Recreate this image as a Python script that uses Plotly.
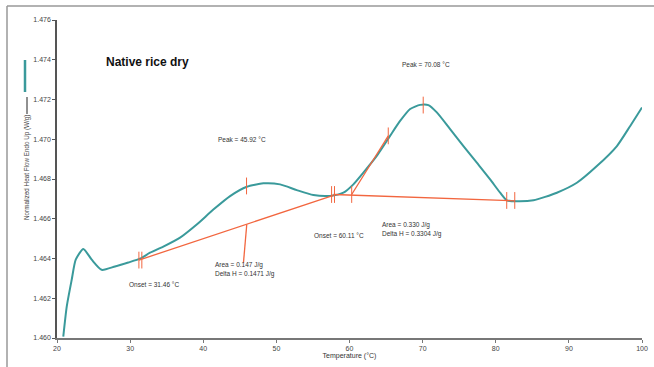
import plotly.graph_objects as go

# ---- data ----
temp = [20.86, 21.33, 22.01, 22.56, 23.60, 24.75, 26.11, 27.93, 29.75, 31.35, 32.72,
        34.54, 36.83, 39.11, 41.38, 43.67, 45.95, 48.22, 50.51, 52.79, 55.06, 57.35,
        59.17, 60.53, 61.90, 63.73, 65.55, 66.92, 68.29, 69.66, 70.79, 71.94, 73.76,
        75.58, 77.41, 79.23, 80.60, 81.52, 82.89, 85.16, 88.36, 91.09, 93.83, 96.57,
        98.39, 100.0]
heat_flow = [1.46007, 1.46158, 1.46293, 1.46394, 1.46448, 1.46394, 1.46343, 1.46360,
             1.46380, 1.46399, 1.46429, 1.46460, 1.46505, 1.46571, 1.46646, 1.46714,
             1.46761, 1.46778, 1.46773, 1.46744, 1.46719, 1.46715, 1.46731, 1.46773,
             1.46832, 1.46916, 1.47017, 1.47092, 1.47152, 1.47173, 1.47172, 1.47135,
             1.47051, 1.46966, 1.46882, 1.46798, 1.46731, 1.46693, 1.46688, 1.46693,
             1.46731, 1.46781, 1.46865, 1.46966, 1.47067, 1.47160]

baseline1_x = [31.2, 57.8]
baseline1_y = [1.46392, 1.46718]
baseline2_x = [57.8, 82.6]
baseline2_y = [1.46722, 1.46690]
tangent_x = [60.3, 65.3]
tangent_y = [1.46722, 1.47017]
leader1_x = [45.95, 45.5]
leader1_y = [1.46571, 1.46379]

tickmark_x = [31.2, 31.6, 45.92, 57.55, 57.95, 60.3, 65.3, 70.08, 81.5, 82.6]
tickmark_y = [1.46392, 1.46392, 1.46765, 1.46722, 1.46722, 1.46722, 1.47017,
              1.47172, 1.46692, 1.46692]

y_ticks = [1.460, 1.462, 1.464, 1.466, 1.468, 1.470, 1.472, 1.474, 1.476]
x_ticks = [20, 30, 40, 50, 60, 70, 80, 90, 100]

labels = [
    ("Peak = 45.92 °C", 41.75, 1.47000),
    ("Peak = 70.08 °C", 66.9, 1.47374),
    ("Onset = 31.46 °C", 29.58, 1.46270),
    ("Area = 0.147 J/g", 41.3, 1.46367),
    ("Delta H = 0.1471 J/g", 41.3, 1.46321),
    ("Onset = 60.11 °C", 54.84, 1.46518),
    ("Area = 0.330 J/g", 64.19, 1.46571),
    ("Delta H = 0.3304 J/g", 64.19, 1.46523),
]
title_text = "Native rice dry"

TEAL = "#3a9a9b"
RED = "#f2663f"
FONT = "Liberation Sans, Arial, sans-serif"

fig = go.Figure()
fig.add_trace(go.Scatter(x=temp, y=heat_flow, mode="lines",
                         line=dict(color=TEAL, width=2, shape="spline", smoothing=0.6),
                         hoverinfo="skip", showlegend=False))
for xs, ys in [(baseline1_x, baseline1_y), (baseline2_x, baseline2_y),
               (tangent_x, tangent_y), (leader1_x, leader1_y)]:
    fig.add_trace(go.Scatter(x=xs, y=ys, mode="lines",
                             line=dict(color=RED, width=1.3),
                             hoverinfo="skip", showlegend=False))
fig.add_trace(go.Scatter(x=tickmark_x, y=tickmark_y, mode="markers",
                         marker=dict(symbol="line-ns-open", size=12, color=RED,
                                     line=dict(color=RED, width=1)),
                         hoverinfo="skip", showlegend=False))

annotations = []
for txt, x, y in labels:
    annotations.append(dict(x=x, y=y, text=txt, showarrow=False, xanchor="left",
                            yanchor="middle", font=dict(size=6.5, color="#333", family=FONT)))
annotations.append(dict(x=26.43, y=1.47389, text="<b>" + title_text + "</b>", showarrow=False,
                        xanchor="left", yanchor="middle",
                        font=dict(size=12, color="#111", family=FONT)))
# y axis title with legend-like glyphs
annotations.append(dict(xref="paper", yref="paper", x=(27 - 57) / 585, y=(338 - 168) / 318,
                        text="Normalized Heat Flow Endo Up (W/g)", textangle=-90,
                        showarrow=False, xanchor="center", yanchor="middle",
                        font=dict(size=6.3, color="#444", family=FONT)))

shapes = [
    dict(type="line", xref="paper", yref="paper", x0=(25 - 57) / 585, x1=(25 - 57) / 585,
         y0=(338 - 92) / 318, y1=(338 - 60) / 318, line=dict(color=TEAL, width=2.5)),
    dict(type="line", xref="paper", yref="paper", x0=(27 - 57) / 585, x1=(27 - 57) / 585,
         y0=(338 - 114) / 318, y1=(338 - 97) / 318, line=dict(color="#222", width=1)),
    # outer frame
    dict(type="line", xref="paper", yref="paper", x0=(7 - 57) / 585, x1=(7 - 57) / 585,
         y0=-0.2, y1=(338 - 6) / 318, line=dict(color="#999", width=1.5)),
    dict(type="line", xref="paper", yref="paper", x0=(7 - 57) / 585, x1=1.1,
         y0=(338 - 6) / 318, y1=(338 - 6) / 318, line=dict(color="#999", width=1.5)),
]

fig.update_layout(
    width=654, height=367,
    margin=dict(l=57, r=12, t=20, b=29),
    paper_bgcolor="white", plot_bgcolor="white",
    font=dict(family=FONT, size=7, color="#444"),
    annotations=annotations, shapes=shapes,
    xaxis=dict(range=[20, 100], tickvals=x_ticks, ticktext=[str(v) for v in x_ticks],
               showgrid=False, zeroline=False, showline=True, linecolor="#777", linewidth=1.5,
               ticks="outside", ticklen=3, tickcolor="#777", tickfont=dict(size=7, color="#444"),
               automargin=False,
               title=dict(text="Temperature (°C)", font=dict(size=7, color="#333"), standoff=2)),
    yaxis=dict(range=[1.460, 1.476], tickvals=y_ticks, ticktext=[f"{v:.3f}" for v in y_ticks],
               showgrid=False, zeroline=False, showline=True, linecolor="#555", linewidth=1.5,
               automargin=False,
               ticks="outside", ticklen=3, tickcolor="#555", tickfont=dict(size=7, color="#444")),
)

fig.write_html("out.html", config={"displayModeBar": False},
               post_script="document.body.style.margin='0';")
